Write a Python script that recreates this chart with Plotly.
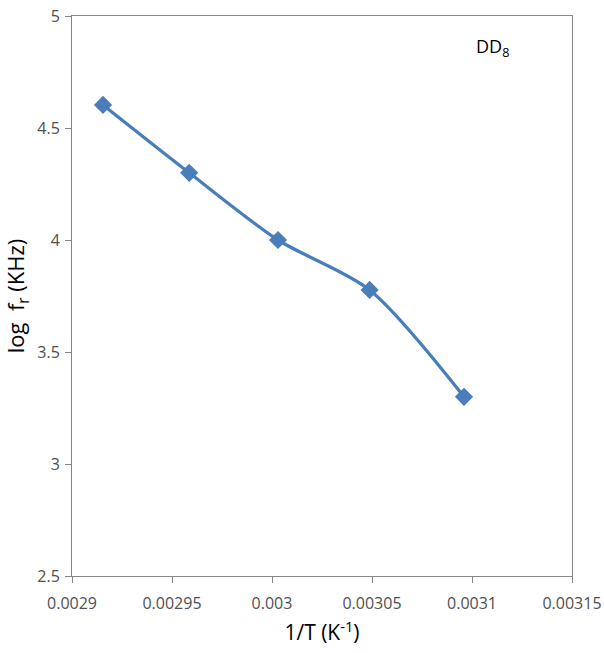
import plotly.graph_objects as go

inv_T = [0.0029155, 0.0029586, 0.0030030, 0.0030488, 0.0030960]
log_fr = [4.603, 4.300, 4.000, 3.777, 3.300]
x_ticks = [0.0029, 0.00295, 0.003, 0.00305, 0.0031, 0.00315]
x_tick_labels = ["0.0029", "0.00295", "0.003", "0.00305", "0.0031", "0.00315"]
y_ticks = [2.5, 3, 3.5, 4, 4.5, 5]
y_tick_labels = ["2.5", "3", "3.5", "4", "4.5", "5"]

FONT = "Open Sans, Liberation Sans, sans-serif"
color = "#4a7ebb"
fig = go.Figure()
fig.add_trace(go.Scatter(
    x=inv_T, y=log_fr, mode="lines+markers",
    line=dict(color=color, width=3.3, shape="spline", smoothing=0.8),
    marker=dict(symbol="diamond", size=14, color=color),
    showlegend=False,
))
fig.add_annotation(x=0.878, y=0.972, xref="paper", yref="paper",
                   text="DD<sub>8</sub>", showarrow=False,
                   font=dict(family=FONT, size=18, color="black"))
axis_common = dict(showgrid=False, zeroline=False, showline=True, linecolor="#868686",
                   linewidth=1, mirror=True, ticks="outside", ticklen=6, tickcolor="#868686",
                   automargin=False,
                   tickfont=dict(family=FONT, size=16, color="#505050"))
fig.update_xaxes(range=[0.0029, 0.00315], tickvals=x_ticks, ticktext=x_tick_labels,
                 ticklabelstandoff=7,
                 title=dict(text="1/T (K<sup>-1</sup>)", font=dict(family=FONT, size=21, color="black"), standoff=12),
                 **axis_common)
fig.update_yaxes(range=[2.5, 5], tickvals=y_ticks, ticktext=y_tick_labels,
                 ticklabelstandoff=2,
                 title=dict(text="log&nbsp;&nbsp;f<sub>r</sub> (KHz)", font=dict(family=FONT, size=22, color="black"), standoff=6),
                 **axis_common)
fig.update_layout(width=604, height=653, margin=dict(l=72, r=32, t=16, b=77),
                  plot_bgcolor="white", paper_bgcolor="white")
fig.write_html("out.html")
